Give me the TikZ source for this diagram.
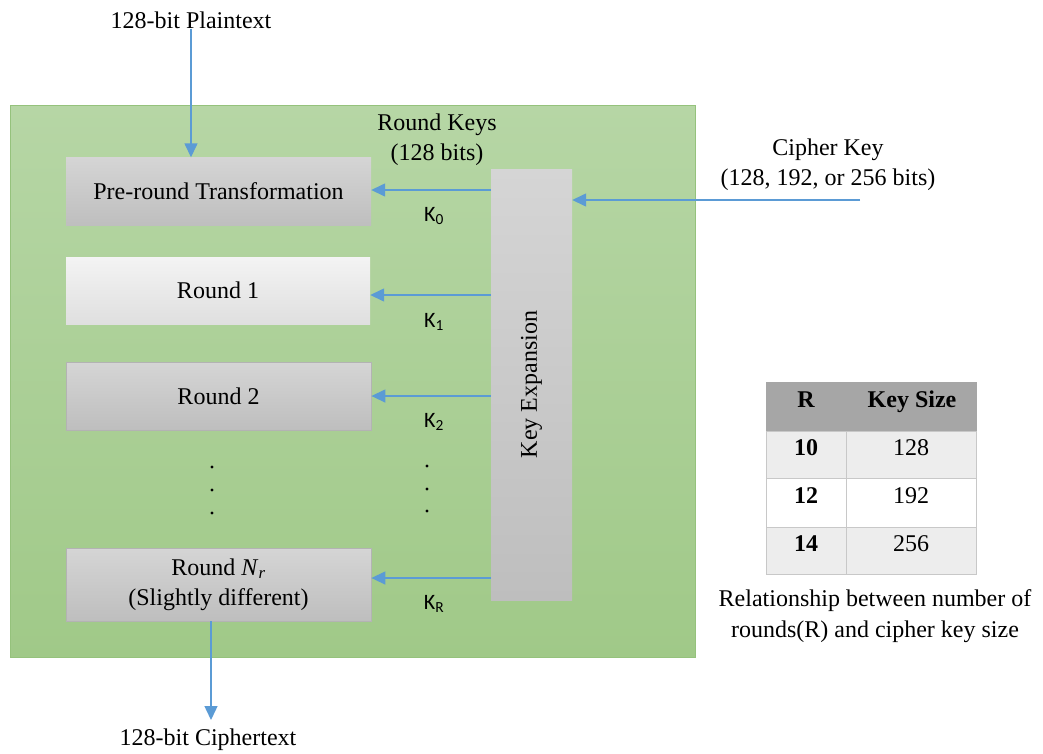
\documentclass[tikz,border=0pt]{standalone}
\usepackage{fontspec}
\setmainfont{Liberation Serif}
\newfontfamily\kfont{Carlito}
\usetikzlibrary{arrows.meta}
\definecolor{blueline}{HTML}{5B9BD5}
\definecolor{greentop}{HTML}{B6D6A5}
\definecolor{greenbot}{HTML}{A0C988}
\definecolor{greenedge}{HTML}{95C27C}
\definecolor{graytop}{HTML}{D5D5D5}
\definecolor{graybot}{HTML}{BEBEBE}
\definecolor{grayedge}{HTML}{B3B3B3}
\definecolor{hdrgray}{HTML}{A6A6A6}
\definecolor{rowgray}{HTML}{EDEDED}
\definecolor{celledge}{HTML}{C8C8C8}
\tikzset{
  arr/.style={draw=blueline, line width=1.4pt, -{Triangle[length=14pt,width=13pt]}},
  panel/.style={draw=greenedge, line width=0.8pt, top color=greentop, bottom color=greenbot, inner sep=0},
  stagebox/.style={top color=graytop, bottom color=graybot, inner sep=0, align=center},
  lightbox/.style={top color=white!91!gray, middle color=white!89!gray, bottom color=white!75!gray, inner sep=0},
  edgebox/.style={stagebox, draw=grayedge, line width=0.8pt},
  klabel/.style={font=\kfont\fontsize{22}{26}\selectfont, inner sep=0},
  dotmark/.style={circle, fill=black, inner sep=0, minimum size=3.2pt},
  cell/.style={draw=celledge, line width=0.9pt, inner sep=0},
  txt/.style={inner sep=0, align=center},
  celltxt/.style={inner sep=0, anchor=base},
  boldtxt/.style={celltxt, font=\fontsize{24}{30}\selectfont\bfseries},
}
\begin{document}
\begin{tikzpicture}[x=1pt,y=-1pt,font=\fontsize{24}{30}\selectfont]
\useasboundingbox (0,0) rectangle (1043,753);
\fill[white] (0,0) rectangle (1043,753);

% green panel
\node[panel, minimum width=685pt, minimum height=552pt] (panel) at (352.5,381) {};

% stages
\node[stagebox, minimum width=305pt, minimum height=68pt] (pre) at (218.5,191.5) {Pre-round Transformation};
\node[lightbox, minimum width=304pt, minimum height=67pt] (r1) at (218,290.5) {Round 1};
\node[edgebox, minimum width=305pt, minimum height=68pt] (r2) at (218.5,396) {Round 2};
\node[edgebox, minimum width=305pt, minimum height=73pt] (rn) at (218.5,584.5) {Round \textit{N}\textsubscript{\textit{r}}\\(Slightly different)};

% key expansion
\node[stagebox, minimum width=81pt, minimum height=431pt] (keyexp) at (531.5,384.5) {};
\node[txt, rotate=90] (ketext) at (keyexp.center) {Key Expansion};

% titles
\node[txt] (rk) at (437,140) {Round Keys\\(128 bits)};
\node[txt] (pt) at (191,20) {128-bit Plaintext};
\node[txt] (ct) at (208,740) {128-bit Ciphertext};
\node[txt] (ck) at (828,165) {Cipher Key\\(128, 192, or 256 bits)};
\coordinate (ckstart) at (860,200);

% arrows
\draw[arr] (pt.south) -- (pt.south |- pre.north);
\draw[arr] (rn.south -| 211,0) -- (211,720);
\draw[arr] (ckstart) -- (keyexp.east |- ckstart);
\draw[arr] (keyexp.west |- 0,190) -- (pre.east |- 0,190);
\draw[arr] (keyexp.west |- 0,295) -- (r1.east |- 0,295);
\draw[arr] (keyexp.west |- 0,396) -- (r2.east |- 0,396);
\draw[arr] (keyexp.west |- 0,578) -- (rn.east |- 0,578);

% K labels
\node[klabel] (k0) at (434,216) {K\textsubscript{0}};
\node[klabel] (k1) at (434,322) {K\textsubscript{1}};
\node[klabel] (k2) at (434,422) {K\textsubscript{2}};
\node[klabel] (kr) at (434,604) {K\textsubscript{R}};

% dots
\node[dotmark] (ld1) at (212,467) {};
\node[dotmark] (ld2) at (212,490) {};
\node[dotmark] (ld3) at (212,513) {};
\node[dotmark] (kd1) at (427,466) {};
\node[dotmark] (kd2) at (427,489) {};
\node[dotmark] (kd3) at (427,511) {};

% table
\node[cell, fill=hdrgray, draw=hdrgray, minimum width=210pt, minimum height=49pt] (thead) at (871,406.5) {};
\node[cell, fill=rowgray, minimum width=80pt, minimum height=47pt] (c11) at (806,454.5) {};
\node[cell, fill=rowgray, minimum width=130pt, minimum height=47pt] (c12) at (911,454.5) {};
\node[cell, fill=white, minimum width=80pt, minimum height=49pt] (c21) at (806,502.5) {};
\node[cell, fill=white, minimum width=130pt, minimum height=49pt] (c22) at (911,502.5) {};
\node[cell, fill=rowgray, minimum width=80pt, minimum height=47pt] (c31) at (806,550.5) {};
\node[cell, fill=rowgray, minimum width=130pt, minimum height=47pt] (c32) at (911,550.5) {};
\node[boldtxt] (hr) at (806,407) {R};
\node[boldtxt] (hk) at (912,407) {Key Size};
\node[boldtxt] (t10) at (806,455) {10};
\node[celltxt] (t128) at (911,455) {128};
\node[boldtxt] (t12) at (806,503) {12};
\node[celltxt] (t192) at (911,503) {192};
\node[boldtxt] (t14) at (806,551) {14};
\node[celltxt] (t256) at (911,551) {256};
\node[txt, font=\fontsize{24}{31}\selectfont] (cap) at (875,616) {Relationship between number of\\rounds(R) and cipher key size};
\end{tikzpicture}
\end{document}
